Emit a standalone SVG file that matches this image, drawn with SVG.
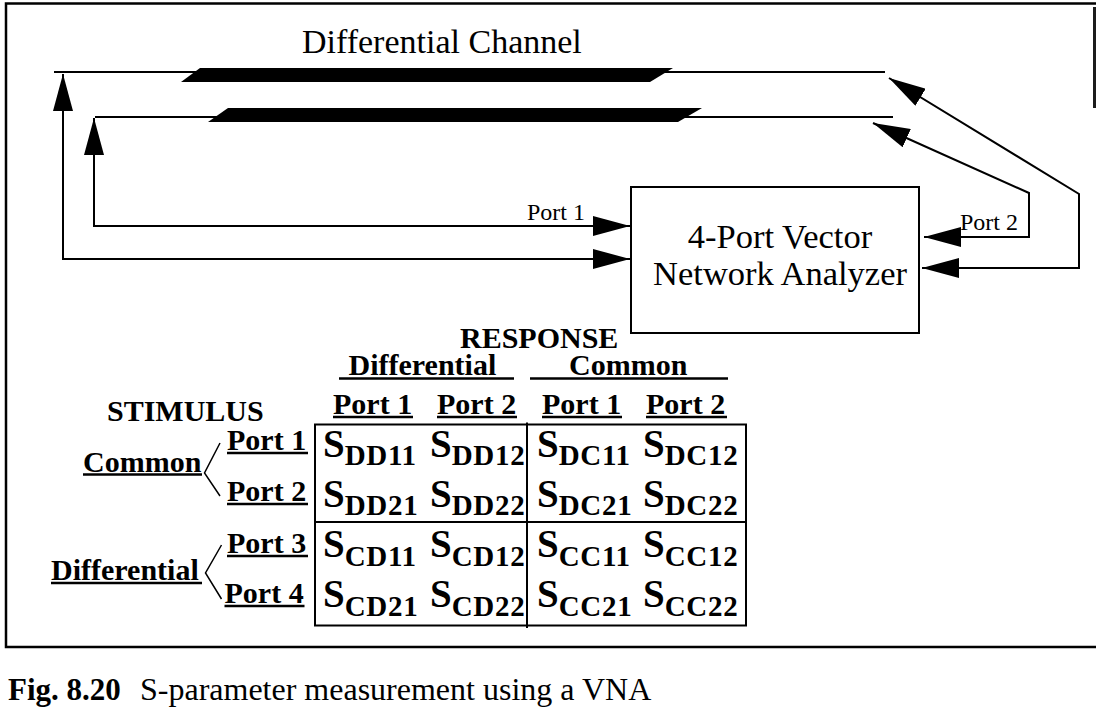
<svg xmlns="http://www.w3.org/2000/svg" width="1096" height="711" viewBox="0 0 1096 711">
<style>
.ser{font-family:"Liberation Serif","Times New Roman",serif;fill:#000}
.b{font-weight:bold}
.ln{fill:none;stroke:#000;stroke-width:2}
.ul{fill:none;stroke:#000;stroke-width:2.5}
.sp{font-size:39px}
.sub{font-size:29px;letter-spacing:0.7px}
.lbl{font-size:30px}
</style>
<defs>
<marker id="ah" viewBox="0 0 37 20" refX="37" refY="10" markerWidth="37" markerHeight="20" markerUnits="userSpaceOnUse" orient="auto-start-reverse">
<path d="M0,0 L37,10 L0,20 z" fill="#000"/>
</marker>
</defs>
<rect width="1096" height="711" fill="#fff"/>
<g id="frame">
<path d="M1096,3.5 H6 V647 H1096" fill="none" stroke="#000" stroke-width="2.5"/>
<rect x="1093" y="7" width="3" height="101" fill="#1c1c1c"/>
</g>
<g id="channel">
<text class="ser" x="302" y="53" font-size="34">Differential Channel</text>
<line class="ln" x1="54" y1="72" x2="885" y2="72"/>
<line class="ln" x1="95" y1="117" x2="893" y2="117"/>
<polygon points="200,68 673,68 650,82 181,82" fill="#000"/>
<polygon points="228,108 702,108 678,122 208,122" fill="#000"/>
</g>
<g id="vna">
<rect x="631" y="187" width="288" height="146" fill="none" stroke="#000" stroke-width="2"/>
<text class="ser" x="780" y="248" font-size="34.5" text-anchor="middle">4-Port Vector</text>
<text class="ser" x="780" y="285" font-size="34.5" text-anchor="middle">Network Analyzer</text>
</g>
<g id="connectors">
<path class="ln" d="M63,74 V259 H630" marker-start="url(#ah)" marker-end="url(#ah)"/>
<path class="ln" d="M94,118 V226 H630" marker-start="url(#ah)" marker-end="url(#ah)"/>
<path class="ln" d="M924,237 H1029 V193 L873,123" marker-start="url(#ah)" marker-end="url(#ah)"/>
<path class="ln" d="M922,268 H1079 V194 L889,78" marker-start="url(#ah)" marker-end="url(#ah)"/>
<text class="ser" x="527" y="220" font-size="24">Port 1</text>
<text class="ser" x="960" y="230" font-size="24">Port 2</text>
</g>
<g id="response">
<text class="ser b lbl" x="460" y="348">RESPONSE</text>
<text class="ser b lbl" x="348.5" y="375">Differential</text>
<line class="ul" x1="339" y1="378.5" x2="514" y2="378.5"/>
<text class="ser b lbl" x="569" y="375">Common</text>
<line class="ul" x1="530" y1="378.5" x2="728" y2="378.5"/>
<text class="ser b lbl" x="333" y="414">Port 1</text>
<line class="ul" x1="333" y1="417" x2="413" y2="417"/>
<text class="ser b lbl" x="437" y="414">Port 2</text>
<line class="ul" x1="437" y1="417" x2="517" y2="417"/>
<text class="ser b lbl" x="542" y="414">Port 1</text>
<line class="ul" x1="542" y1="417" x2="622" y2="417"/>
<text class="ser b lbl" x="646" y="414">Port 2</text>
<line class="ul" x1="646" y1="417" x2="727" y2="417"/>
</g>
<g id="stimulus">
<text class="ser b lbl" x="107" y="421">STIMULUS</text>
<text class="ser b lbl" x="83" y="471.5">Common</text>
<line class="ul" x1="83" y1="474.5" x2="202" y2="474.5"/>
<text class="ser b lbl" x="51" y="580">Differential</text>
<line class="ul" x1="51" y1="583" x2="202" y2="583"/>
<polyline points="220,443 204.5,473 220,496" fill="none" stroke="#000" stroke-width="1.5"/>
<polyline points="221.5,545 205.5,573 221.5,599" fill="none" stroke="#000" stroke-width="1.5"/>
<text class="ser b lbl" x="227" y="450">Port 1</text>
<line class="ul" x1="227" y1="453" x2="308" y2="453"/>
<text class="ser b lbl" x="227" y="501">Port 2</text>
<line class="ul" x1="227" y1="504" x2="308" y2="504"/>
<text class="ser b lbl" x="227" y="553">Port 3</text>
<line class="ul" x1="227" y1="556" x2="308" y2="556"/>
<text class="ser b lbl" x="224.5" y="603">Port 4</text>
<line class="ul" x1="224.5" y1="606" x2="304.5" y2="606"/>
</g>
<g id="table">
<rect x="315" y="424.5" width="431" height="201" fill="none" stroke="#000" stroke-width="2"/>
<line class="ln" x1="527" y1="422.5" x2="527" y2="628"/>
<line class="ln" x1="315" y1="522" x2="746" y2="522"/>
<g class="ser b">
<text class="sp" x="323" y="456.5">S<tspan class="sub" dy="8.5">DD11</tspan></text>
<text class="sp" x="430" y="456.5">S<tspan class="sub" dy="8.5">DD12</tspan></text>
<text class="sp" x="537" y="456.5">S<tspan class="sub" dy="8.5">DC11</tspan></text>
<text class="sp" x="643" y="456.5">S<tspan class="sub" dy="8.5">DC12</tspan></text>
<text class="sp" x="323" y="506.5">S<tspan class="sub" dy="8.5">DD21</tspan></text>
<text class="sp" x="430" y="506.5">S<tspan class="sub" dy="8.5">DD22</tspan></text>
<text class="sp" x="537" y="506.5">S<tspan class="sub" dy="8.5">DC21</tspan></text>
<text class="sp" x="643" y="506.5">S<tspan class="sub" dy="8.5">DC22</tspan></text>
<text class="sp" x="323" y="557">S<tspan class="sub" dy="8.5">CD11</tspan></text>
<text class="sp" x="430" y="557">S<tspan class="sub" dy="8.5">CD12</tspan></text>
<text class="sp" x="537" y="557">S<tspan class="sub" dy="8.5">CC11</tspan></text>
<text class="sp" x="643" y="557">S<tspan class="sub" dy="8.5">CC12</tspan></text>
<text class="sp" x="323" y="607">S<tspan class="sub" dy="8.5">CD21</tspan></text>
<text class="sp" x="430" y="607">S<tspan class="sub" dy="8.5">CD22</tspan></text>
<text class="sp" x="537" y="607">S<tspan class="sub" dy="8.5">CC21</tspan></text>
<text class="sp" x="643" y="607">S<tspan class="sub" dy="8.5">CC22</tspan></text>
</g>
</g>
<g id="caption">
<text class="ser b" x="8" y="699.5" font-size="31">Fig. 8.20</text>
<text class="ser" x="140" y="700" font-size="32">S-parameter measurement using a VNA</text>
</g>
</svg>
